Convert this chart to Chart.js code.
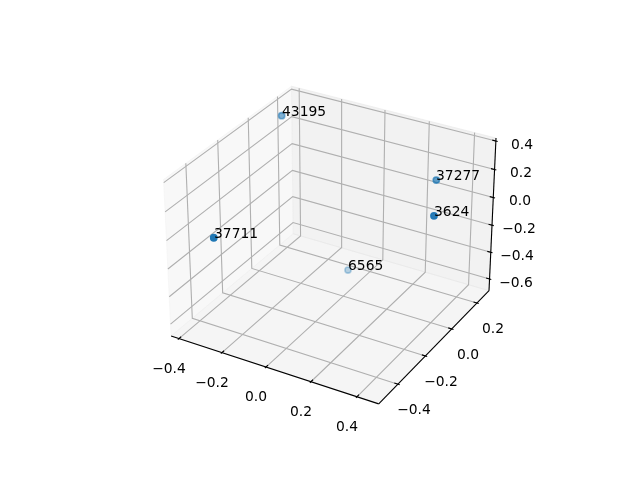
<!DOCTYPE html>
<html>
<head>
<meta charset="utf-8">
<title>3D scatter</title>
<script src="https://cdn.jsdelivr.net/npm/chart.js@4"></script>
<style>
	html, body { margin: 0; padding: 0; background: #fff; }
	canvas { display: block; }
</style>
</head>
<body>
<canvas id="chart" width="640" height="480"></canvas>
<script>
// values
const labels = ['43195', '37711', '37277', '3624', '6565'];
const xValues = [-0.3366, -0.2432, 0.3175, 0.4376, -0.0542];
const yValues = [0.0813, -0.5033, 0.1575, -0.0667, 0.1199];
const zValues = [0.413, 0.0815, 0.167, 0.1595, -0.6284];

const xTicks = [-0.4, -0.2, 0, 0.2, 0.4];
const yTicks = [-0.4, -0.2, 0, 0.2];
const zTicks = [-0.6, -0.4, -0.2, 0, 0.2, 0.4];

const xLim = [-0.4368, 0.493];
const yLim = [-0.5347, 0.2985];
const zLim = [-0.688, 0.421];

// same camera as a default mplot3d axes: elev 30, azim -60, dist 10
const boxSize = [1.1905, 1.1905, 0.8929];
const dist = 10;
const elev = 30 * Math.PI / 180;
const azim = -60 * Math.PI / 180;
const w = [Math.cos(elev) * Math.cos(azim), Math.cos(elev) * Math.sin(azim), Math.sin(elev)];
const uLen = Math.hypot(w[0], w[1]);
const u = [-w[1] / uLen, w[0] / uLen, 0];
const v = [w[1] * u[2] - w[2] * u[1], w[2] * u[0] - w[0] * u[2], w[0] * u[1] - w[1] * u[0]];
const dot = (a, b) => a[0] * b[0] + a[1] * b[1] + a[2] * b[2];

const project = (x, y, z) => {
	const c = [
		((x - xLim[0]) / (xLim[1] - xLim[0]) - 0.5) * boxSize[0],
		((y - yLim[0]) / (yLim[1] - yLim[0]) - 0.5) * boxSize[1],
		((z - zLim[0]) / (zLim[1] - zLim[0]) - 0.5) * boxSize[2]
	];
	const depth = dist - dot(c, w);
	return { x: dot(c, u) / depth, y: dot(c, v) / depth, depth: depth };
};

const path = (pts) => pts.map(p => project(p[0], p[1], p[2]));

const lineSet = (pts, color, width, order) => ({
	data: path(pts),
	showLine: true,
	borderColor: color,
	borderWidth: width,
	pointRadius: 0,
	fill: false,
	order: order
});

const paneSet = (pts, color) => ({
	data: path(pts.concat([pts[0]])),
	showLine: true,
	borderColor: color,
	backgroundColor: color,
	borderWidth: 1,
	pointRadius: 0,
	fill: 'shape',
	order: 5
});

const [x0, x1] = xLim;
const [y0, y1] = yLim;
const [z0, z1] = zLim;

const datasets = [];

// panes
datasets.push(paneSet([[x0, y0, z0], [x0, y1, z0], [x0, y1, z1], [x0, y0, z1]], 'rgba(242,242,242,0.5)'));
datasets.push(paneSet([[x0, y1, z0], [x1, y1, z0], [x1, y1, z1], [x0, y1, z1]], 'rgba(230,230,230,0.5)'));
datasets.push(paneSet([[x0, y0, z0], [x1, y0, z0], [x1, y1, z0], [x0, y1, z0]], 'rgba(236,236,236,0.5)'));

// grid
const gridColor = '#b0b0b0';
xTicks.forEach(t => datasets.push(lineSet([[t, y0, z0], [t, y1, z0], [t, y1, z1]], gridColor, 1.11, 4)));
yTicks.forEach(t => datasets.push(lineSet([[x1, t, z0], [x0, t, z0], [x0, t, z1]], gridColor, 1.11, 4)));
zTicks.forEach(t => datasets.push(lineSet([[x0, y0, t], [x0, y1, t], [x1, y1, t]], gridColor, 1.11, 4)));

// axis lines and tick marks
const dx = (x1 - x0) / 12;
const dy = (y1 - y0) / 12;
datasets.push(lineSet([[x0, y0, z0], [x1, y0, z0]], '#000', 1.11, 3));
datasets.push(lineSet([[x1, y0, z0], [x1, y1, z0]], '#000', 1.11, 3));
datasets.push(lineSet([[x1, y1, z0], [x1, y1, z1]], '#000', 1.11, 3));
xTicks.forEach(t => datasets.push(lineSet([[t, y0 - 0.1 * dy, z0], [t, y0 + 0.2 * dy, z0]], '#000', 1.11, 3)));
yTicks.forEach(t => datasets.push(lineSet([[x1 + 0.1 * dx, t, z0], [x1 - 0.2 * dx, t, z0]], '#000', 1.11, 3)));
zTicks.forEach(t => datasets.push(lineSet([[x1 + 0.1 * dx, y1, t], [x1 - 0.2 * dx, y1, t]], '#000', 1.11, 3)));

// the points, shaded by depth
const points = labels.map((l, i) => project(xValues[i], yValues[i], zValues[i]));
const depths = points.map(p => p.depth);
const nearest = Math.min(...depths);
const farthest = Math.max(...depths);
const shades = points.map(p => `rgba(31,119,180,${1 - 0.7 * (p.depth - nearest) / (farthest - nearest)})`);
datasets.push({
	data: points,
	showLine: false,
	pointRadius: 3.1,
	pointBorderWidth: 1.6,
	pointBackgroundColor: shades,
	pointBorderColor: shades,
	order: 1,
	clip: false
});

const tickText = (text) => text.toFixed(1).replace('-', '\u2212');

const textPlugin = {
	id: 'textPlugin',
	afterDatasetsDraw(chart) {
		const ctx = chart.ctx;
		const sx = chart.scales.x;
		const sy = chart.scales.y;
		const put = (p, text, ox, oy) => ctx.fillText(text, Math.round(sx.getPixelForValue(p.x) + ox), Math.round(sy.getPixelForValue(p.y) + oy));

		ctx.save();
		ctx.font = '13.89px "DejaVu Sans"';
		ctx.fillStyle = '#000';

		ctx.textAlign = 'center';
		ctx.textBaseline = 'middle';
		xTicks.forEach(t => put(project(t, y0, z0), tickText(t), -10, 30));
		yTicks.forEach(t => put(project(x1, t, z0), tickText(t), 16, 26));
		zTicks.forEach(t => put(project(x1, y1, t), tickText(t), 26.5, 3.5));

		ctx.textAlign = 'left';
		ctx.textBaseline = 'alphabetic';
		labels.forEach((l, i) => put(points[i], l, 0, 0));
		ctx.restore();
	}
};

new Chart(document.getElementById('chart').getContext('2d'), {
	type: 'scatter',
	data: { datasets: datasets },
	options: {
		responsive: false,
		animation: false,
		layout: {
			padding: { left: 143.2, right: 127.2, top: 57.6, bottom: 52.8 }
		},
		scales: {
			x: { display: false, min: -0.095, max: 0.09 },
			y: { display: false, min: -0.095, max: 0.09 }
		},
		plugins: {
			legend: { display: false },
			tooltip: { enabled: false }
		}
	},
	plugins: [textPlugin]
});
</script>
</body>
</html>
